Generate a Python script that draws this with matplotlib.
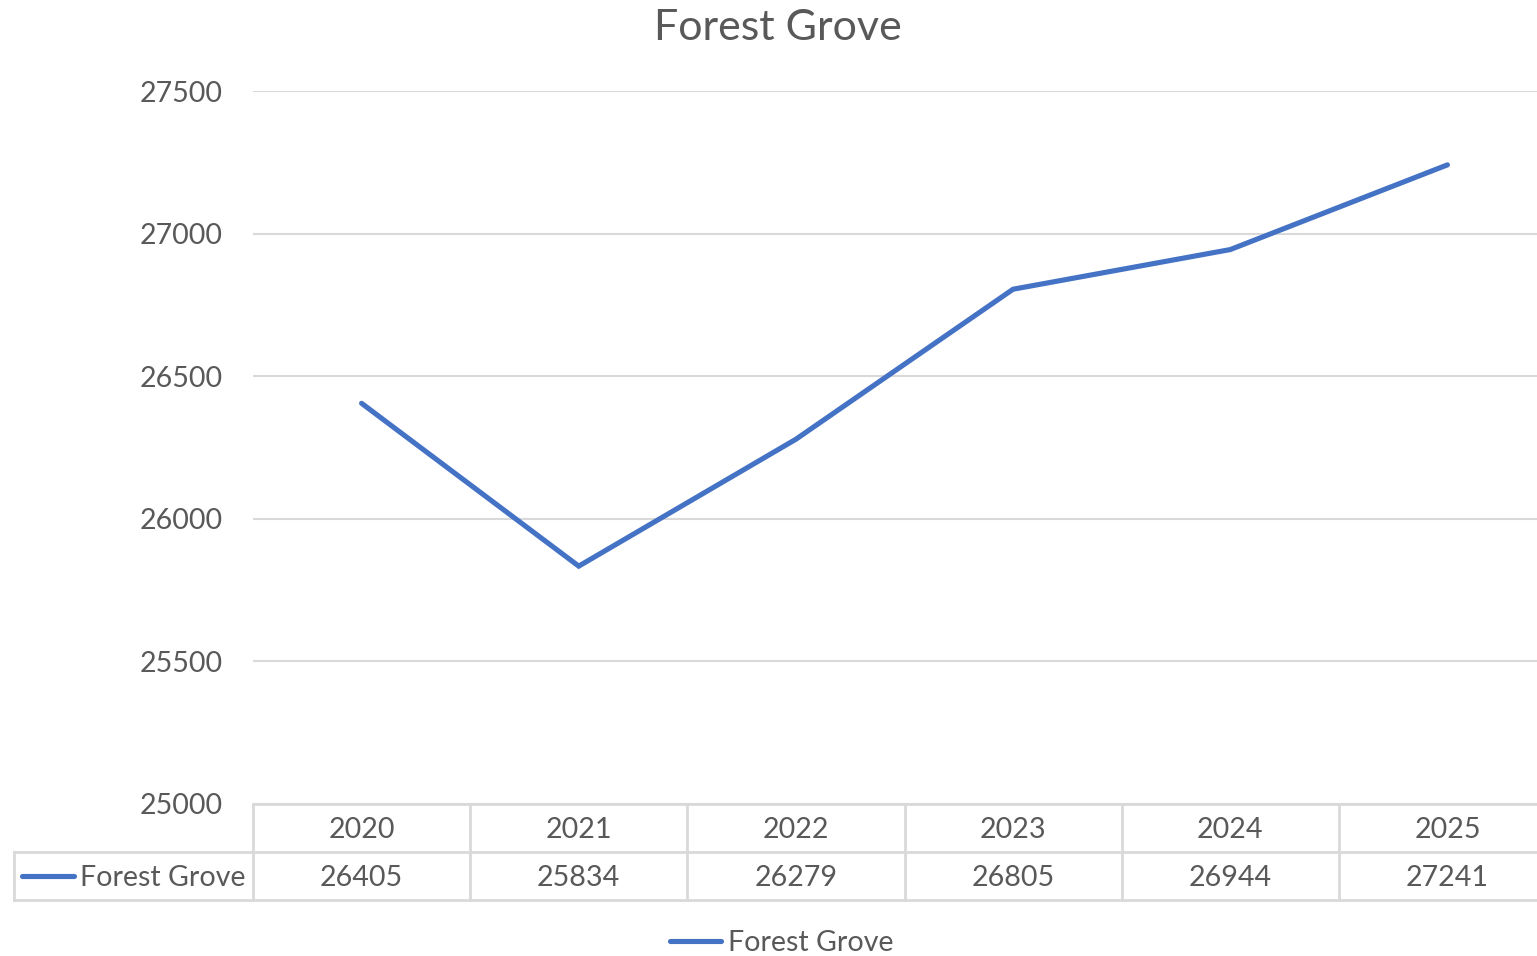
import matplotlib
matplotlib.use("Agg")
import matplotlib.pyplot as plt
from matplotlib.lines import Line2D
from matplotlib.transforms import blended_transform_factory

# Population series for Forest Grove
years = ["2020", "2021", "2022", "2023", "2024", "2025"]
population = [26405, 25834, 26279, 26805, 26944, 27241]
series_name = "Forest Grove"
y_ticks = [25000, 25500, 26000, 26500, 27000, 27500]

W, H = 1537, 956
TEXT = "#595959"
GRID = "#D9D9D9"
LINE = "#4472C4"
FONT = ["Lato", "DejaVu Sans"]
FS = 20.6
LW = 3.7
plt.rcParams["font.family"] = FONT

fig = plt.figure(figsize=(W / 100, H / 100), dpi=100)

def fx(px):
    return px / W

def fy(py):
    return 1 - py / H

ax_left, ax_right = 253, 1556
ax_top, ax_bottom = 91, 804
ax = fig.add_axes([fx(ax_left), fy(ax_bottom), fx(ax_right - ax_left),
                   (ax_bottom - ax_top) / H])

xs = list(range(len(years)))
ax.plot(xs, population, color=LINE, linewidth=LW, solid_capstyle="round",
        solid_joinstyle="miter", zorder=3)

ax.set_xlim(-0.5, len(years) - 0.5)
ax.set_ylim(y_ticks[0], y_ticks[-1])
ax.set_yticks(y_ticks)
ax.set_yticklabels([str(t) for t in y_ticks])
ax.set_xticks([])
ax.tick_params(axis="y", length=0, pad=22, labelsize=FS, labelcolor=TEXT)
for sp in ax.spines.values():
    sp.set_visible(False)
ax.grid(axis="y", color=GRID, linewidth=1.5, zorder=1)
ax.set_axisbelow(True)

# Data table below the plot area
tr = blended_transform_factory(ax.transData, fig.transFigure)
row1_top, row1_bot, row2_bot = 804, 852, 900
line_kw = dict(color=GRID, linewidth=2.0, clip_on=False)

for py in (row1_top, row1_bot, row2_bot):
    fig.add_artist(Line2D([fx(ax_left), fx(ax_right)], [fy(py), fy(py)],
                          transform=fig.transFigure, **line_kw))
for i in range(len(years) + 1):
    x = i - 0.5
    fig.add_artist(Line2D([x, x], [fy(row1_top), fy(row2_bot)],
                          transform=tr, **line_kw))

# Row label cell
fig.add_artist(Line2D([fx(14), fx(ax_left)], [fy(row1_bot), fy(row1_bot)],
                      transform=fig.transFigure, **line_kw))
fig.add_artist(Line2D([fx(14), fx(ax_left)], [fy(row2_bot), fy(row2_bot)],
                      transform=fig.transFigure, **line_kw))
fig.add_artist(Line2D([fx(14), fx(14)], [fy(row1_bot), fy(row2_bot)],
                      transform=fig.transFigure, **line_kw))

for i, (yr, val) in enumerate(zip(years, population)):
    fig.text(i, fy((row1_top + row1_bot) / 2 + 2), yr, transform=tr,
             ha="center", va="center", fontsize=FS, color=TEXT)
    fig.text(i, fy((row1_bot + row2_bot) / 2 + 2), str(val), transform=tr,
             ha="center", va="center", fontsize=FS, color=TEXT)

ymid = fy((row1_bot + row2_bot) / 2)
fig.add_artist(Line2D([fx(22), fx(74)], [ymid, ymid], color=LINE,
                      linewidth=LW, solid_capstyle="round",
                      transform=fig.transFigure))
fig.text(fx(80), fy((row1_bot + row2_bot) / 2 + 2), series_name,
         ha="left", va="center", fontsize=FS, color=TEXT)

# Legend
fig.add_artist(Line2D([fx(670), fx(721)], [fy(941), fy(941)], color=LINE,
                      linewidth=LW, solid_capstyle="round",
                      transform=fig.transFigure))
fig.text(fx(728), fy(943), series_name, ha="left", va="center",
         fontsize=FS, color=TEXT)

# Title
fig.text(fx(778), fy(28), series_name, ha="center", va="center",
         fontsize=31, color=TEXT)

fig.savefig("out.png", dpi=100, facecolor="white")
